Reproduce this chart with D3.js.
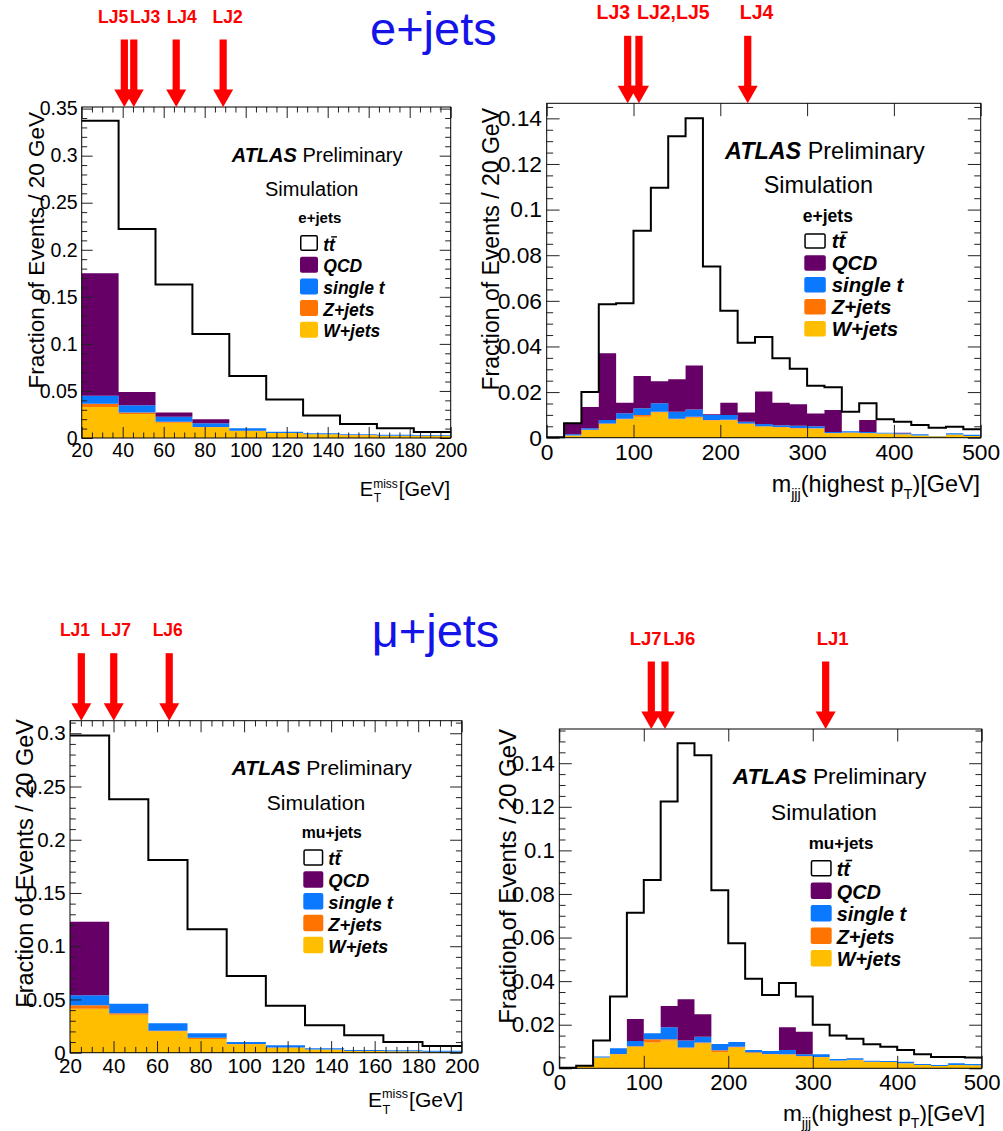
<!DOCTYPE html>
<html lang="en">
<head>
<meta charset="UTF-8" />
<title>ATLAS e+jets / mu+jets</title>
<script src="https://d3js.org/d3.v7.min.js"></script>
<style>
  body { margin: 0; background: #fff; }
  svg { font-family: 'Liberation Sans', Arial, Helvetica, sans-serif; }
</style>
</head>
<body>
<div id="chart"></div>
<script>
// bin edges
const metEdges = [20, 38, 56, 74, 92, 110, 128, 146, 164, 182, 200]
const mjjjEdges = [0, 20, 40, 60, 80, 100, 120, 140, 160, 180, 200, 220, 240, 260, 280, 300, 320, 340, 360, 380, 400, 420, 440, 460, 480, 500]

// tick labels
const metTicks = [20, 40, 60, 80, 100, 120, 140, 160, 180, 200]
const mjjjTicks = [0, 100, 200, 300, 400, 500]
const yTicksMet = [0, 0.05, 0.1, 0.15, 0.2, 0.25, 0.3, 0.35]
const yTicksMjjj = [0, 0.02, 0.04, 0.06, 0.08, 0.1, 0.12, 0.14]

// e+jets, missing ET
const ejMetTT = [0.337, 0.222, 0.163, 0.1105, 0.066, 0.041, 0.024, 0.0149, 0.0103, 0.0064]
const ejMetW = [0.033, 0.0255, 0.0163, 0.0113, 0.0074, 0.0053, 0.0039, 0.003, 0.0025, 0.002]
const ejMetZ = [0.0035, 0.0015, 0.001, 0.0003, 0.0002, 0.0001, 0.0001, 0.0001, 0, 0]
const ejMetST = [0.0085, 0.0077, 0.0054, 0.004, 0.0027, 0.0013, 0.001, 0.0009, 0.001, 0.001]
const ejMetQCD = [0.13, 0.0143, 0.0043, 0.0043, 0, 0, 0, 0, 0, 0]

// e+jets, m_jjj
const ejMjjjTT = [0.0002, 0.0063, 0.020, 0.0585, 0.0589, 0.0907, 0.1096, 0.1322, 0.140, 0.075, 0.0557, 0.0416, 0.0441, 0.0348, 0.0302, 0.0228, 0.0221, 0.0114, 0.0151, 0.0081, 0.007, 0.0056, 0.0044, 0.0048, 0.0037]
const ejMjjjW = [0, 0.001, 0.0034, 0.006, 0.0081, 0.0092, 0.011, 0.0081, 0.0088, 0.0075, 0.0077, 0.006, 0.0048, 0.0045, 0.004, 0.004, 0.002, 0.0022, 0.002, 0.0018, 0.0015, 0.001, 0.0006, 0.0014, 0.0007]
const ejMjjjZ = [0, 0, 0.0001, 0.0002, 0.0002, 0.0007, 0.0004, 0.0002, 0.0004, 0.0003, 0.0002, 0.0002, 0.0002, 0.0002, 0.0002, 0.0001, 0.0001, 0.0001, 0.0001, 0, 0, 0, 0, 0, 0]
const ejMjjjST = [0, 0.0005, 0.0006, 0.0016, 0.0024, 0.003, 0.0037, 0.0031, 0.0032, 0.0022, 0.0021, 0.0008, 0.001, 0.0008, 0.001, 0.0009, 0.0004, 0.0005, 0.0004, 0.0004, 0.0004, 0.0005, 0.0001, 0.0006, 0.0006]
const ejMjjjQCD = [0, 0.0048, 0.0094, 0.0292, 0.0046, 0.0141, 0.0097, 0.0142, 0.0192, 0.0003, 0.0053, 0.0041, 0.0142, 0.0098, 0.0095, 0.0056, 0.0096, 0, 0.0053, 0, 0.0003, 0, 0, 0, 0]

// mu+jets, missing ET
const mjMetTT = [0.298, 0.238, 0.181, 0.116, 0.072, 0.0442, 0.0257, 0.0163, 0.010, 0.0063]
const mjMetW = [0.0413, 0.0357, 0.0201, 0.0129, 0.0079, 0.0047, 0.003, 0.0016, 0.0013, 0.001]
const mjMetZ = [0.0032, 0.0013, 0.0006, 0.0011, 0.0003, 0.0002, 0.0001, 0.0001, 0, 0]
const mjMetST = [0.0094, 0.009, 0.0069, 0.0042, 0.0018, 0.002, 0.001, 0.0008, 0.0009, 0.0009]
const mjMetQCD = [0.0691, 0, 0, 0, 0, 0, 0, 0, 0, 0]

// mu+jets, m_jjj
const mjMjjjTT = [0.0003, 0.0012, 0.0127, 0.0329, 0.0714, 0.0864, 0.1224, 0.1492, 0.1437, 0.0817, 0.0574, 0.0411, 0.0336, 0.0392, 0.0329, 0.020, 0.015, 0.0136, 0.011, 0.0099, 0.0084, 0.0064, 0.0052, 0.0052, 0.0049]
const mjMjjjW = [0.0003, 0.0012, 0.0049, 0.0064, 0.0099, 0.0118, 0.0127, 0.0092, 0.0115, 0.0075, 0.0096, 0.007, 0.0064, 0.0063, 0.0054, 0.0051, 0.0035, 0.0038, 0.0029, 0.0029, 0.0023, 0.0015, 0.001, 0.0015, 0.0014]
const mjMjjjZ = [0, 0, 0.0001, 0.0002, 0.0002, 0.0015, 0.0006, 0.0003, 0.0003, 0.0008, 0.0003, 0.0004, 0.0002, 0.0002, 0.0002, 0.0001, 0.0001, 0.0001, 0.0001, 0, 0, 0, 0, 0, 0]
const mjMjjjST = [0, 0, 0.0004, 0.0026, 0.0024, 0.0028, 0.0055, 0.0032, 0.0027, 0.0029, 0.0022, 0.001, 0.0013, 0.0019, 0.0008, 0.0012, 0.0007, 0.0007, 0.0005, 0.0004, 0.0007, 0.0005, 0.0005, 0.0008, 0.0006]
const mjMjjjQCD = [0, 0, 0, 0, 0.0101, 0, 0.0098, 0.019, 0.0103, 0, 0, 0, 0, 0.0104, 0.0104, 0, 0, 0, 0, 0, 0, 0, 0, 0, 0]

// selection cut arrows (x in axis units), label centre in axis units
const ejMetCuts = [
  { name: 'LJ5', x: 40.8, labelX: 35.3 },
  { name: 'LJ3', x: 45.4, labelX: 50.9 },
  { name: 'LJ4', x: 66.1, labelX: 68.8 },
  { name: 'LJ2', x: 89, labelX: 91.2 },
]
const ejMjjjCuts = [
  { name: 'LJ3', x: 93.3, labelX: 76.7 },
  { name: 'LJ2,LJ5', x: 106.3, labelX: 145.9 },
  { name: 'LJ4', x: 231.6, labelX: 241.9 },
]
const mjMetCuts = [
  { name: 'LJ1', x: 25.2, labelX: 22.3 },
  { name: 'LJ7', x: 40.1, labelX: 41.1 },
  { name: 'LJ6', x: 65.6, labelX: 64.9 },
]
const mjMjjjCuts = [
  { name: 'LJ7', x: 108.9, labelX: 102.2 },
  { name: 'LJ6', x: 125.1, labelX: 142 },
  { name: 'LJ1', x: 315.3, labelX: 323.6 },
]

const stackKeys = ['W', 'Z', 'st', 'QCD']
const colors = { W: '#ffbf00', Z: '#ff7400', st: '#0a78ff', QCD: '#660066' }
const legendItems = [
  { key: 'tt', label: 'tt' },
  { key: 'QCD', label: 'QCD' },
  { key: 'st', label: 'single t' },
  { key: 'Z', label: 'Z+jets' },
  { key: 'W', label: 'W+jets' },
]

const panels = [
  {
    kind: 'met', channel: 'e+jets', edges: metEdges, tt: ejMetTT, W: ejMetW, Z: ejMetZ, st: ejMetST, QCD: ejMetQCD,
    xTicks: metTicks, xMinorStep: 5, yTicks: yTicksMet, yMajorStep: 0.05, yMinorStep: 0.01, yMax: 0.3517,
    cuts: ejMetCuts, frame: { l: 81.7, r: 450.7, t: 107, b: 438 }, s: 1, cutFont: 17.5,
    atlas: [231.7, 161.7], sim: [311.7, 196], head: [298.3, 223.3],
    legend: { x: 300, y: 235, dy: 21.7, w: 18, h: 16, labelX: 323.3 },
    yTitle: { x: 44, y: 112, size: 22.5 }, xTitle: { r: 450, y: 496 },
  },
  {
    kind: 'mjjj', channel: 'e+jets', edges: mjjjEdges, tt: ejMjjjTT, W: ejMjjjW, Z: ejMjjjZ, st: ejMjjjST, QCD: ejMjjjQCD,
    xTicks: mjjjTicks, xMinorStep: 0, yTicks: yTicksMjjj, yMajorStep: 0.02, yMinorStep: 0.005, yMax: 0.1466,
    cuts: ejMjjjCuts, frame: { l: 546.7, r: 980.7, t: 103.3, b: 437.7 }, s: 1.17, cutFont: 19.5,
    atlas: [725, 159.3], sim: [818.3, 193.3], head: [802.7, 221.7],
    legend: { x: 804.3, y: 233.3, dy: 21.9, w: 21.5, h: 15.5, labelX: 831.7 },
    yTitle: { x: 499, y: 108, size: 23 }, xTitle: { r: 980, y: 492 },
  },
  {
    kind: 'met', channel: 'mu+jets', edges: metEdges, tt: mjMetTT, W: mjMetW, Z: mjMetZ, st: mjMetST, QCD: mjMetQCD,
    xTicks: metTicks, xMinorStep: 5, yTicks: yTicksMet.slice(0, 7), yMajorStep: 0.05, yMinorStep: 0.01, yMax: 0.3118,
    cuts: mjMetCuts, frame: { l: 70, r: 461.7, t: 720.7, b: 1052.7 }, s: 1.055, cutFont: 17.5,
    atlas: [231.7, 775], sim: [316, 810], head: [301.7, 838.3],
    legend: { x: 303.3, y: 849.3, dy: 21.85, w: 20, h: 16.5, labelX: 328.3 },
    yTitle: { x: 33, y: 719, size: 23.5 }, xTitle: { r: 463, y: 1107 },
  },
  {
    kind: 'mjjj', channel: 'mu+jets', edges: mjjjEdges, tt: mjMjjjTT, W: mjMjjjW, Z: mjMjjjZ, st: mjMjjjST, QCD: mjMjjjQCD,
    xTicks: mjjjTicks, xMinorStep: 0, yTicks: yTicksMjjj, yMajorStep: 0.02, yMinorStep: 0.005, yMax: 0.1557,
    cuts: mjMjjjCuts, frame: { l: 559.3, r: 981.7, t: 729, b: 1068.3 }, s: 1.135, cutFont: 18.5,
    atlas: [732.7, 784], sim: [824, 820], head: [808.7, 849],
    legend: { x: 810.7, y: 860, dy: 22.5, w: 21, h: 16.5, labelX: 836.7 },
    yTitle: { x: 516, y: 729, size: 24 }, xTitle: { r: 985, y: 1121 },
  },
]

const svg = d3.select('#chart').append('svg').attr('width', 1003).attr('height', 1131)
svg.append('rect').attr('width', 1003).attr('height', 1131).attr('fill', '#fff')

// channel headings
svg.append('text').attr('x', 370).attr('y', 45).attr('font-size', 47).attr('fill', '#1414e8').text('e+jets')
svg.append('text').attr('x', 371.7).attr('y', 646.7).attr('font-size', 47).attr('fill', '#1414e8').text('μ+jets')

const fmtY = d => String(+d.toFixed(3))

function minorTicks(lo, hi, step, majorStep) {
  return d3.range(lo, hi + 1e-9, step).filter(v => Math.abs(v / majorStep - Math.round(v / majorStep)) > 1e-6)
}

function addAxis(g, axis, tr, size) {
  const a = g.append('g').attr('transform', tr).call(axis)
  a.select('.domain').remove()
  a.attr('font-family', null).attr('font-size', size)
  a.selectAll('line').attr('stroke', '#222')
  a.selectAll('text').attr('fill', '#000')
  return a
}

function drawPanel(p) {
  const { l, r, t, b } = p.frame
  const s = p.s
  const g = svg.append('g')
  const x = d3.scaleLinear().domain([p.edges[0], p.edges[p.edges.length - 1]]).range([l, r])
  const y = d3.scaleLinear().domain([0, p.yMax]).range([b, t])
  const n = p.edges.length - 1

  // stacked backgrounds
  const rows = d3.range(n).map(i => ({ W: p.W[i], Z: p.Z[i], st: p.st[i], QCD: p.QCD[i] }))
  const series = d3.stack().keys(stackKeys)(rows)
  const area = d3.area().curve(d3.curveStepAfter)
    .x(d => x(d.e)).y0(d => y(d.v[0])).y1(d => y(d.v[1]))
  series.forEach(ser => {
    const pts = p.edges.map((e, i) => ({ e, v: ser[Math.min(i, n - 1)] }))
    g.append('path').attr('d', area(pts)).attr('fill', colors[ser.key])
  })

  // ttbar outline
  const line = d3.line().curve(d3.curveStepAfter).x(d => x(d.e)).y(d => y(d.v))
  const ttPts = p.edges.map((e, i) => ({ e, v: p.tt[Math.min(i, n - 1)] }))
  g.append('path').attr('d', line(ttPts)).attr('fill', 'none').attr('stroke', '#000').attr('stroke-width', 2)

  // axes, ROOT style ticks on all four sides
  const major = 11 * s
  const minor = 5.5 * s
  const tickFont = 19.5 * s
  const xMinor = p.xMinorStep ? minorTicks(x.domain()[0], x.domain()[1], p.xMinorStep, 20) : []
  const yMinor = minorTicks(0, p.yMax, p.yMinorStep, p.yMajorStep)

  addAxis(g, d3.axisBottom(x).tickValues(p.xTicks).tickSize(-major).tickPadding(5 * s).tickFormat(d3.format('d')), `translate(0,${b})`, tickFont)
  addAxis(g, d3.axisBottom(x).tickValues(xMinor).tickSize(-minor).tickFormat(''), `translate(0,${b})`, tickFont)
  addAxis(g, d3.axisTop(x).tickValues(p.xTicks).tickSize(-major).tickFormat(''), `translate(0,${t})`, tickFont)
  addAxis(g, d3.axisTop(x).tickValues(xMinor).tickSize(-minor).tickFormat(''), `translate(0,${t})`, tickFont)
  addAxis(g, d3.axisLeft(y).tickValues(p.yTicks).tickSize(-major).tickPadding(4 * s).tickFormat(fmtY), `translate(${l},0)`, tickFont)
  addAxis(g, d3.axisLeft(y).tickValues(yMinor).tickSize(-minor).tickFormat(''), `translate(${l},0)`, tickFont)
  addAxis(g, d3.axisRight(y).tickValues(p.yTicks).tickSize(-major).tickFormat(''), `translate(${r},0)`, tickFont)
  addAxis(g, d3.axisRight(y).tickValues(yMinor).tickSize(-minor).tickFormat(''), `translate(${r},0)`, tickFont)

  g.append('rect').attr('x', l).attr('y', t).attr('width', r - l).attr('height', b - t)
    .attr('fill', 'none').attr('stroke', '#000').attr('stroke-width', 1)

  // cut arrows
  p.cuts.forEach(c => {
    const cx = x(c.x)
    g.append('rect').attr('x', cx - 3.6).attr('y', t - 67.5).attr('width', 7.2).attr('height', 51).attr('fill', '#ff0000')
    g.append('path').attr('d', `M${cx - 10},${t - 17.5}L${cx + 10},${t - 17.5}L${cx},${t}Z`).attr('fill', '#ff0000')
    g.append('text').attr('x', x(c.labelX)).attr('y', t - 84.5).attr('text-anchor', 'middle')
      .attr('font-size', p.cutFont).attr('font-weight', 'bold').attr('fill', '#ff0000').text(c.name)
  })

  // ATLAS label
  const at = g.append('text').attr('x', p.atlas[0]).attr('y', p.atlas[1]).attr('font-size', 20 * s)
  at.append('tspan').attr('font-weight', 'bold').attr('font-style', 'italic').text('ATLAS')
  at.append('tspan').text(' Preliminary')
  g.append('text').attr('x', p.sim[0]).attr('y', p.sim[1]).attr('font-size', 20 * s).attr('text-anchor', 'middle').text('Simulation')
  g.append('text').attr('x', p.head[0]).attr('y', p.head[1]).attr('font-size', 15 * s).attr('font-weight', 'bold').text(p.channel)

  // legend
  const lg = p.legend
  legendItems.forEach((it, i) => {
    const by = lg.y + i * lg.dy
    if (it.key === 'tt') {
      g.append('rect').attr('x', lg.x + 0.75).attr('y', by + 0.75).attr('width', lg.w - 1.5).attr('height', lg.h - 1.5)
        .attr('rx', 1.5).attr('fill', '#fff').attr('stroke', '#000').attr('stroke-width', 1.5)
    } else {
      g.append('rect').attr('x', lg.x).attr('y', by).attr('width', lg.w).attr('height', lg.h)
        .attr('rx', 2).attr('fill', colors[it.key])
    }
    const tx = g.append('text').attr('x', lg.labelX).attr('y', by + lg.h - 0.5)
      .attr('font-size', 17.5 * s).attr('font-weight', 'bold').attr('font-style', 'italic').text(it.label)
    if (it.key === 'tt') {
      const w = tx.node().getComputedTextLength()
      const fs = 17.5 * s
      const yb = by + lg.h - 0.5 - fs * 0.78
      g.append('line').attr('x1', lg.labelX + w * 0.55 + 1.5 * s).attr('x2', lg.labelX + w + 2 * s)
        .attr('y1', yb).attr('y2', yb).attr('stroke', '#000').attr('stroke-width', 1.4 * s)
    }
  })

  // y title
  g.append('text').attr('transform', `translate(${p.yTitle.x},${p.yTitle.y}) rotate(-90)`)
    .attr('text-anchor', 'end').attr('font-size', p.yTitle.size).text('Fraction of Events / 20 GeV')

  // x title
  const fs = 20 * s
  if (p.kind === 'met') {
    const xt = g.append('g')
    const e = xt.append('text').attr('font-size', fs).text('E')
    const we = e.node().getComputedTextLength()
    const sup = xt.append('text').attr('x', we).attr('y', -fs * 0.42).attr('font-size', fs * 0.6).text('miss')
    xt.append('text').attr('x', we + 0.5).attr('y', fs * 0.32).attr('font-size', fs * 0.6).text('T')
    const ws = sup.node().getComputedTextLength()
    const gev = xt.append('text').attr('x', we + ws + 1).attr('font-size', fs).text('[GeV]')
    const wg = gev.node().getComputedTextLength()
    xt.attr('transform', `translate(${p.xTitle.r - (we + ws + 1 + wg)},${p.xTitle.y})`)
  } else {
    const xt = g.append('text').attr('x', p.xTitle.r).attr('y', p.xTitle.y).attr('text-anchor', 'end').attr('font-size', fs)
    xt.append('tspan').text('m')
    xt.append('tspan').attr('font-size', fs * 0.62).attr('dy', fs * 0.3).text('jjj')
    xt.append('tspan').attr('dy', -fs * 0.3).text('(highest p')
    xt.append('tspan').attr('font-size', fs * 0.62).attr('dy', fs * 0.3).text('T')
    xt.append('tspan').attr('dy', -fs * 0.3).text(')[GeV]')
  }
}

panels.forEach(drawPanel)
</script>
</body>
</html>
